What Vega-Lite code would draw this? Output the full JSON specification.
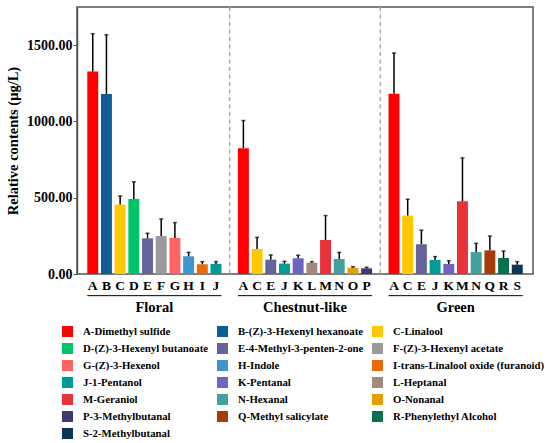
{
  "$schema": "https://vega.github.io/schema/vega-lite/v6.json",
  "description": "Relative contents of aroma compounds in floral, chestnut-like and green groups",
  "width": 456,
  "height": 267,
  "autosize": "none",
  "padding": {"left": 77, "top": 7, "right": 17, "bottom": 169},
  "background": "white",
  "config": {
    "font": "Liberation Serif, Times New Roman, serif",
    "view": {"stroke": "#555555", "strokeWidth": 1.5},
    "axis": {"labelFont": "Liberation Serif, Times New Roman, serif", "titleFont": "Liberation Serif, Times New Roman, serif", "labelFontWeight": "bold", "titleFontWeight": "bold", "labelColor": "black", "titleColor": "black", "grid": false, "domainColor": "#555555", "domainWidth": 1.5, "tickColor": "#555555"}
  },
  "datasets": {
    "bars": [
      {"group": "Floral", "key": "Floral:A", "name": "A-Dimethyl sulfide", "value": 1327, "upper": 1575},
      {"group": "Floral", "key": "Floral:B", "name": "B-(Z)-3-Hexenyl hexanoate", "value": 1179, "upper": 1568},
      {"group": "Floral", "key": "Floral:C", "name": "C-Linalool", "value": 455, "upper": 512},
      {"group": "Floral", "key": "Floral:D", "name": "D-(Z)-3-Hexenyl butanoate", "value": 492, "upper": 604},
      {"group": "Floral", "key": "Floral:E", "name": "E-4-Methyl-3-penten-2-one", "value": 234, "upper": 267},
      {"group": "Floral", "key": "Floral:F", "name": "F-(Z)-3-Hexenyl acetate", "value": 249, "upper": 361},
      {"group": "Floral", "key": "Floral:G", "name": "G-(Z)-3-Hexenol", "value": 236, "upper": 337},
      {"group": "Floral", "key": "Floral:H", "name": "H-Indole", "value": 116, "upper": 142},
      {"group": "Floral", "key": "Floral:I", "name": "I-trans-Linalool oxide (furanoid)", "value": 64, "upper": 81},
      {"group": "Floral", "key": "Floral:J", "name": "J-1-Pentanol", "value": 66, "upper": 81},
      {"group": "Chestnut-like", "key": "Chestnut-like:A", "name": "A-Dimethyl sulfide", "value": 825, "upper": 1006},
      {"group": "Chestnut-like", "key": "Chestnut-like:C", "name": "C-Linalool", "value": 164, "upper": 240},
      {"group": "Chestnut-like", "key": "Chestnut-like:E", "name": "E-4-Methyl-3-penten-2-one", "value": 94, "upper": 125},
      {"group": "Chestnut-like", "key": "Chestnut-like:J", "name": "J-1-Pentanol", "value": 68, "upper": 83},
      {"group": "Chestnut-like", "key": "Chestnut-like:K", "name": "K-Pentanal", "value": 103, "upper": 123},
      {"group": "Chestnut-like", "key": "Chestnut-like:L", "name": "L-Heptanal", "value": 74, "upper": 81},
      {"group": "Chestnut-like", "key": "Chestnut-like:M", "name": "M-Geraniol", "value": 223, "upper": 383},
      {"group": "Chestnut-like", "key": "Chestnut-like:N", "name": "N-Hexanal", "value": 98, "upper": 142},
      {"group": "Chestnut-like", "key": "Chestnut-like:O", "name": "O-Nonanal", "value": 41, "upper": 48},
      {"group": "Chestnut-like", "key": "Chestnut-like:P", "name": "P-3-Methylbutanal", "value": 37, "upper": 44},
      {"group": "Green", "key": "Green:A", "name": "A-Dimethyl sulfide", "value": 1181, "upper": 1448},
      {"group": "Green", "key": "Green:C", "name": "C-Linalool", "value": 383, "upper": 490},
      {"group": "Green", "key": "Green:E", "name": "E-4-Methyl-3-penten-2-one", "value": 195, "upper": 287},
      {"group": "Green", "key": "Green:J", "name": "J-1-Pentanol", "value": 92, "upper": 114},
      {"group": "Green", "key": "Green:K", "name": "K-Pentanal", "value": 66, "upper": 87},
      {"group": "Green", "key": "Green:M", "name": "M-Geraniol", "value": 477, "upper": 761},
      {"group": "Green", "key": "Green:N", "name": "N-Hexanal", "value": 144, "upper": 201},
      {"group": "Green", "key": "Green:Q", "name": "Q-Methyl salicylate", "value": 155, "upper": 249},
      {"group": "Green", "key": "Green:R", "name": "R-Phenylethyl Alcohol", "value": 105, "upper": 151},
      {"group": "Green", "key": "Green:S", "name": "S-2-Methylbutanal", "value": 61, "upper": 81}
    ],
    "groups": [
      {"group": "Floral", "first": "Floral:A", "last": "Floral:J", "mid": "Floral:E"},
      {"group": "Chestnut-like", "first": "Chestnut-like:A", "last": "Chestnut-like:P", "mid": "Chestnut-like:K"},
      {"group": "Green", "first": "Green:A", "last": "Green:S", "mid": "Green:K"}
    ],
    "gaps": [{"key": "~1"}, {"key": "~2"}]
  },
  "layer": [
    {
      "data": {"name": "bars"},
      "mark": {"type": "bar"},
      "encoding": {
        "x": {
          "field": "key",
          "type": "nominal",
          "scale": {
            "domain": ["Floral:A", "Floral:B", "Floral:C", "Floral:D", "Floral:E", "Floral:F", "Floral:G", "Floral:H", "Floral:I", "Floral:J", "~1",
                       "Chestnut-like:A", "Chestnut-like:C", "Chestnut-like:E", "Chestnut-like:J", "Chestnut-like:K", "Chestnut-like:L", "Chestnut-like:M", "Chestnut-like:N", "Chestnut-like:O", "Chestnut-like:P", "~2",
                       "Green:A", "Green:C", "Green:E", "Green:J", "Green:K", "Green:M", "Green:N", "Green:Q", "Green:R", "Green:S"],
            "paddingInner": 0.2,
            "paddingOuter": 0.75
          },
          "axis": {
            "title": null,
            "domain": false,
            "ticks": false,
            "tickSize": 0,
            "labelPadding": 4,
            "labelFontSize": 13.5,
            "labelAngle": 0,
            "labelExpr": "indexof(datum.value, '~') >= 0 ? '' : split(datum.value, ':')[1]"
          }
        },
        "y": {
          "field": "value",
          "type": "quantitative",
          "scale": {"domain": [0, 1750], "nice": false},
          "axis": {
            "title": "Relative contents (μg/L)",
            "titleFontSize": 14.5,
            "titlePadding": 6,
            "labelFontSize": 14,
            "format": ".2f",
            "values": [0, 500, 1000, 1500],
            "tickSize": 4,
            "labelPadding": 1
          }
        },
        "color": {
          "field": "name",
          "type": "nominal",
          "scale": {
            "domain": ["A-Dimethyl sulfide", "B-(Z)-3-Hexenyl hexanoate", "C-Linalool", "D-(Z)-3-Hexenyl butanoate", "E-4-Methyl-3-penten-2-one", "F-(Z)-3-Hexenyl acetate", "G-(Z)-3-Hexenol", "H-Indole", "I-trans-Linalool oxide (furanoid)", "J-1-Pentanol", "K-Pentanal", "L-Heptanal", "M-Geraniol", "N-Hexanal", "O-Nonanal", "P-3-Methylbutanal", "Q-Methyl salicylate", "R-Phenylethyl Alcohol", "S-2-Methylbutanal"],
            "range": ["#FF0000", "#0B5E95", "#FFC800", "#00C46A", "#65649A", "#9A9A9A", "#FF6465", "#3D96D2", "#E8680C", "#009A97", "#6E64C2", "#A08A7D", "#E8333A", "#43A09B", "#E39D05", "#413873", "#A33E0A", "#06704F", "#0C3658"]
          },
          "legend": {
            "title": null,
            "orient": "none",
            "direction": "horizontal",
            "legendX": -15,
            "legendY": 319,
            "columns": 3,
            "padding": 0,
            "symbolType": "square",
            "symbolSize": 121,
            "symbolStrokeWidth": 0,
            "labelFont": "Liberation Serif, Times New Roman, serif",
            "labelFontWeight": "bold",
            "labelFontSize": 10.8,
            "labelColor": "black",
            "labelOffset": 10,
            "rowPadding": 5,
            "columnPadding": 8,
            "labelLimit": 300
          }
        }
      }
    },
    {
      "data": {"name": "bars"},
      "mark": {"type": "rule", "color": "black", "strokeWidth": 1.5},
      "encoding": {
        "x": {"field": "key", "type": "nominal", "title": null},
        "y": {"field": "value", "type": "quantitative"},
        "y2": {"field": "upper"}
      }
    },
    {
      "data": {"name": "bars"},
      "mark": {"type": "tick", "color": "black", "thickness": 1.5},
      "encoding": {
        "x": {"field": "key", "type": "nominal", "title": null},
        "y": {"field": "upper", "type": "quantitative"},
        "size": {"value": 4}
      }
    },
    {
      "data": {"name": "gaps"},
      "mark": {"type": "rule", "color": "#AAAAAA", "strokeWidth": 1.5, "strokeDash": [4, 3.5]},
      "encoding": {
        "x": {"field": "key", "type": "nominal", "title": null}
      }
    },
    {
      "data": {"name": "groups"},
      "mark": {"type": "rule", "color": "black", "strokeWidth": 1},
      "encoding": {
        "x": {"field": "first", "type": "nominal", "bandPosition": 0, "title": null},
        "x2": {"field": "last", "bandPosition": 1},
        "y": {"datum": -142, "type": "quantitative"}
      }
    },
    {
      "data": {"name": "groups"},
      "mark": {"type": "text", "font": "Liberation Serif, Times New Roman, serif", "fontWeight": "bold", "fontSize": 14.5, "baseline": "middle", "align": "center", "color": "black"},
      "encoding": {
        "x": {"field": "mid", "type": "nominal", "bandPosition": 1.125, "title": null},
        "y": {"datum": -223, "type": "quantitative"},
        "text": {"field": "group"}
      }
    }
  ]
}
